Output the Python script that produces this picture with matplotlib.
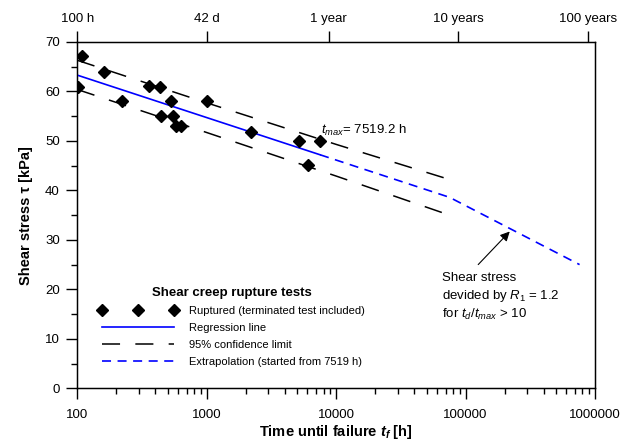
import matplotlib
matplotlib.use("Agg")
import matplotlib.pyplot as plt
import numpy as np

plt.rcParams['font.family'] = ['Liberation Sans', 'DejaVu Sans']
plt.rcParams['mathtext.fontset'] = 'custom'
plt.rcParams['mathtext.rm'] = 'Liberation Sans'
plt.rcParams['mathtext.it'] = 'Liberation Sans:italic'
plt.rcParams['mathtext.bf'] = 'Liberation Sans:bold'
plt.rcParams['mathtext.bfit'] = 'Liberation Sans:bold:italic'
plt.rcParams['lines.scale_dashes'] = False

# rupture tests (time until failure [h], shear stress [kPa])
test_time = [109, 102, 162, 222, 358, 435, 526, 443, 551, 578, 629, 1009, 2183, 5152, 7519.2, 6026]
test_tau = [67.1, 61.0, 64.0, 58.0, 61.1, 61.0, 58.0, 55.1, 55.1, 53.1, 53.1, 58.0, 51.9, 49.9, 49.9, 45.1]

# regression line (up to t_max)
reg_time = [100, 7519.2]
reg_tau = [63.3, 47.2]

# 95% confidence limits
conf_time = [100, 1000, 10000, 75192]
conf_upper = [66.3, 57.7, 49.3, 42.2]
conf_lower = [60.4, 51.7, 42.9, 35.0]

# extrapolation from t_max, reduced by R1 for t_d/t_max > 10
extrap_time = [7519.2, 75192, 760000]
extrap_tau = [47.2, 38.6, 25.0]

top_ticks = [100, 1008, 8760, 87600, 876000]
top_labels = ["100 h", "42 d", "1 year", "10 years", "100 years"]
bottom_ticks = [100, 1000, 10000, 100000, 1000000]

fig = plt.figure(figsize=(6.34, 4.41), dpi=100)
ax = fig.add_axes([0.1219, 0.1195, 0.8166, 0.7853])

blue = '#0000ff'
ax.plot(reg_time, reg_tau, color=blue, lw=1.2, label='Regression line', zorder=3)
ax.plot(conf_time, conf_upper, color='black', lw=1.1, dashes=(13, 11),
        label='95% confidence limit', zorder=2)
ax.plot(conf_time, conf_lower, color='black', lw=1.1, dashes=(13, 11), zorder=2)
ax.plot(extrap_time, extrap_tau, color=blue, lw=1.2, dashes=(6.5, 4.7),
        label='Extrapolation (started from 7519 h)', zorder=3)
ax.plot(test_time, test_tau, ls='none', marker='D', ms=6.3, color='black',
        label='Ruptured (terminated test included)', zorder=4)

ax.set_xscale('log')
ax.set_xlim(100, 1000000)
ax.set_ylim(0, 70)
ax.set_xticks(bottom_ticks)
ax.set_xticklabels([str(t) for t in bottom_ticks])
ax.xaxis.set_minor_locator(matplotlib.ticker.LogLocator(base=10, subs=np.arange(2, 10)))
ax.xaxis.set_minor_formatter(matplotlib.ticker.NullFormatter())
ax.set_yticks(np.arange(0, 71, 10))
ax.set_yticks(np.arange(5, 70, 10), minor=True)

ax.tick_params(which='major', direction='out', length=8, width=1, labelsize=9.5, pad=4.5)
ax.tick_params(which='minor', direction='out', length=4, width=1)
ax.tick_params(axis='x', which='major', pad=7)
for s in ax.spines.values():
    s.set_linewidth(1)

ax2 = ax.twiny()
ax2.set_xscale('log')
ax2.set_xlim(ax.get_xlim())
ax2.set_xticks(top_ticks)
ax2.set_xticklabels(top_labels)
ax2.xaxis.set_minor_locator(matplotlib.ticker.NullLocator())
ax2.tick_params(direction='out', length=8, width=1, labelsize=9.5, pad=4)

ax.set_ylabel('Shear stress \u03c4 [kPa]', fontsize=10.5, fontweight='bold', labelpad=9)
ax.set_xlabel(r'Time until failure $\mathbfit{t}_\mathbfit{f}$ [h]', fontsize=10.5,
              fontweight='bold', labelpad=1)

ax.text(7519.2 * 1.02, 51.4, r'$t_{max}$= 7519.2 h', fontsize=9.5, ha='left', va='baseline')

ax.annotate('', xy=(227000, 32.1), xytext=(121000, 24.6),
            arrowprops=dict(arrowstyle='-|>', color='black', lw=0.8, mutation_scale=14))
ax.text(0.704, 0.31, 'Shear stress', transform=ax.transAxes, fontsize=9.5, va='baseline')
ax.text(0.704, 0.258, r'devided by $R_1$ = 1.2', transform=ax.transAxes, fontsize=9.5, va='baseline')
ax.text(0.704, 0.203, r'for $t_d$/$t_{max}$ > 10', transform=ax.transAxes, fontsize=9.5, va='baseline')

h, l = ax.get_legend_handles_labels()
order = [3, 0, 1, 2]
leg = ax.legend([h[i] for i in order], [l[i] for i in order], loc='lower left',
                bbox_to_anchor=(0.031, 0.046), frameon=False, fontsize=8, numpoints=3,
                handlelength=7.1, handletextpad=1.0, labelspacing=0.63, borderpad=0,
                title='Shear creep rupture tests',
                title_fontproperties={'weight': 'bold', 'size': 9.5})

fig.savefig('out.png', dpi=100)
